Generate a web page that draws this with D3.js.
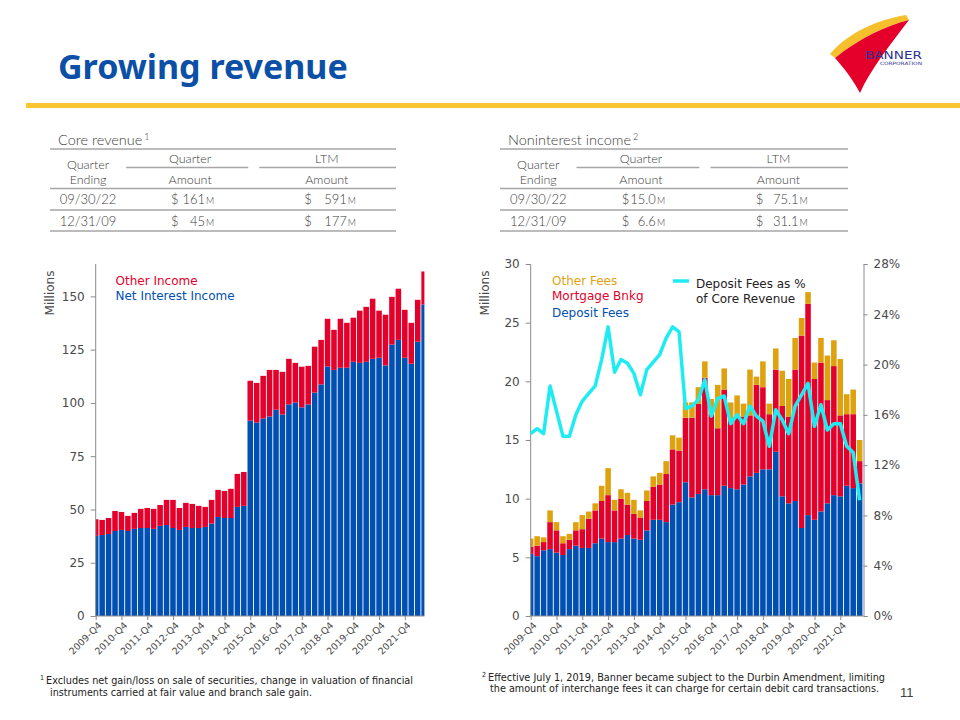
<!DOCTYPE html>
<html>
<head>
<meta charset="utf-8">
<script src="https://cdn.jsdelivr.net/npm/d3@7"></script>
<style>
body { margin: 0; background: #fff; }
svg text { font-family: "DejaVu Sans", Verdana, sans-serif; }
.tbl { font-family: Lato, "Open Sans", sans-serif; font-weight: 300; fill: #404040; }
.note { font-family: "Liberation Sans Narrow", "DejaVu Sans Condensed", sans-serif; fill: #222; }
</style>
</head>
<body>
<script>
var quarters = [
  "2009-Q4",
  "2010-Q1", "2010-Q2", "2010-Q3", "2010-Q4",
  "2011-Q1", "2011-Q2", "2011-Q3", "2011-Q4",
  "2012-Q1", "2012-Q2", "2012-Q3", "2012-Q4",
  "2013-Q1", "2013-Q2", "2013-Q3", "2013-Q4",
  "2014-Q1", "2014-Q2", "2014-Q3", "2014-Q4",
  "2015-Q1", "2015-Q2", "2015-Q3", "2015-Q4",
  "2016-Q1", "2016-Q2", "2016-Q3", "2016-Q4",
  "2017-Q1", "2017-Q2", "2017-Q3", "2017-Q4",
  "2018-Q1", "2018-Q2", "2018-Q3", "2018-Q4",
  "2019-Q1", "2019-Q2", "2019-Q3", "2019-Q4",
  "2020-Q1", "2020-Q2", "2020-Q3", "2020-Q4",
  "2021-Q1", "2021-Q2", "2021-Q3", "2021-Q4",
  "2022-Q1", "2022-Q2", "2022-Q3"
];
var label_quarters = ["2009-Q4", "2010-Q4", "2011-Q4", "2012-Q4", "2013-Q4", "2014-Q4", "2015-Q4",
  "2016-Q4", "2017-Q4", "2018-Q4", "2019-Q4", "2020-Q4", "2021-Q4"];

// core revenue, millions
var net_interest_income = [37.6, 38.0, 38.5, 39.9, 40.4, 39.9, 40.9, 41.3, 41.3, 40.9, 42.3, 42.7, 41.3,
  40.4, 41.8, 41.3, 41.3, 41.8, 43.4, 46.5, 46.0, 46.0, 51.2, 51.7, 91.7, 90.8, 92.7, 93.6, 96.8, 94.6,
  99.3, 100.2, 97.9, 99.3, 104.9, 108.7, 117.1, 115.5, 116.5, 116.5, 119.3, 118.8, 119.3, 120.7, 121.2,
  117.6, 127.4, 129.6, 121.2, 118.4, 128.7, 146.2];
var other_income = [7.8, 7.1, 7.5, 9.4, 8.4, 7.1, 7.5, 9.0, 9.4, 9.4, 9.8, 11.8, 13.2, 10.3, 11.3, 11.3,
  10.4, 9.4, 11.1, 12.7, 12.7, 13.7, 15.5, 15.9, 18.7, 18.6, 20.0, 21.9, 18.7, 20.0, 21.4, 18.6, 19.1,
  18.1, 21.5, 20.9, 22.4, 18.8, 23.0, 21.1, 20.7, 24.5, 25.8, 28.2, 22.1, 23.8, 22.4, 24.0, 22.5, 19.2,
  19.7, 15.5];

// noninterest income, millions
var deposit_fees = [5.3, 5.1, 5.6, 5.7, 5.4, 5.2, 5.7, 6.0, 5.8, 5.8, 6.2, 6.6, 6.3, 6.3, 6.6, 6.9, 6.6,
  6.5, 7.3, 8.2, 8.2, 8.0, 9.5, 9.7, 11.4, 10.1, 10.4, 10.8, 10.3, 10.3, 11.1, 10.9, 10.8, 11.2, 11.9,
  12.2, 12.5, 12.5, 14.0, 10.2, 9.6, 9.8, 7.5, 8.6, 8.2, 8.9, 9.6, 10.3, 10.2, 11.1, 10.9, 11.3];
var mortgage_banking = [0.6, 0.9, 0.7, 2.3, 1.9, 1.0, 0.8, 1.3, 1.6, 2.5, 2.8, 3.2, 4.0, 2.7, 3.4, 2.6,
  2.1, 1.9, 2.5, 2.8, 3.0, 4.1, 4.7, 4.4, 5.5, 6.8, 7.7, 9.5, 6.9, 5.7, 8.2, 5.8, 6.2, 5.8, 5.2, 7.5,
  7.0, 4.7, 7.0, 7.7, 7.4, 11.2, 16.4, 18.0, 12.0, 12.7, 8.8, 11.0, 6.9, 6.1, 6.3, 1.9];
var other_fees = [0.7, 0.8, 0.4, 1.0, 0.7, 0.6, 0.5, 0.7, 1.2, 0.6, 0.6, 1.3, 2.3, 0.9, 0.8, 1.0, 1.2,
  0.6, 0.9, 0.9, 1.0, 1.1, 1.2, 1.1, 1.3, 1.3, 1.4, 1.4, 1.3, 3.7, 1.8, 1.5, 1.8, 1.1, 3.9, 0.7, 2.2,
  0.9, 1.8, 3.0, 3.2, 2.7, 1.5, 1.0, 1.4, 2.1, 3.8, 2.2, 4.8, 1.7, 2.1, 1.8];
// deposit fees as % of core revenue
var deposit_fee_pct = [14.5, 14.9, 14.5, 18.3, 16.3, 14.3, 14.3, 16.0, 17.1, 17.7, 18.3, 20.4, 23.0,
  19.4, 20.4, 20.1, 19.3, 17.6, 19.6, 20.2, 20.8, 22.1, 23.0, 22.6, 16.5, 16.7, 17.2, 18.8, 15.9, 17.3,
  17.5, 15.3, 16.0, 15.3, 16.7, 15.9, 15.5, 13.5, 16.4, 15.6, 14.5, 16.7, 17.6, 18.5, 15.1, 16.8, 14.8,
  15.3, 15.3, 13.5, 13.0, 9.2];

var core_ticks = [0, 25, 50, 75, 100, 125, 150];
var fee_ticks = [0, 5, 10, 15, 20, 25, 30];
var pct_ticks = [0, 4, 8, 12, 16, 20, 24, 28];

var core_table_rows = [["09/30/22", "161", "591"], ["12/31/09", "45", "177"]];
var fee_table_rows = [["09/30/22", "15.0", "75.1"], ["12/31/09", "6.6", "31.1"]];

var blue_color  = "#0050b4";
var red_color   = "#e3002b";
var gold_color  = "#dfa20f";
var cyan_color  = "#1eecf2";
var axis_color  = "#8c8c8c";
var tick_color  = "#4a4a4a";
var plot_top    = 264;
var plot_bottom = 616;

var svg = d3.select("body").append("svg")
  .attr("width", 960)
  .attr("height", 720);

function draw_header () {
  svg.append("text")
    .attr("x", 58).attr("y", 79)
    .style("font-family", "'Noto Sans', sans-serif")
    .style("font-weight", "bold")
    .style("font-size", "34px")
    .style("fill", "#0b4fa6")
    .text("Growing revenue");

  svg.append("rect")
    .attr("x", 26).attr("y", 103)
    .attr("width", 934).attr("height", 5)
    .attr("fill", "#f7c632");

  // logo
  svg.append("path")
    .attr("d", "M830,54 C848,33 876,20 906,15 L909,20 C885,26 860,38 835,58 Z")
    .attr("fill", "#f5c02c");
  svg.append("path")
    .attr("d", "M835,58 C860,38 885,26 909,20 C890,45 870,70 860,93 C852,78 843,67 835,58 Z")
    .attr("fill", "#e4002b");
  svg.append("text")
    .attr("x", 865).attr("y", 58.5)
    .attr("textLength", 57).attr("lengthAdjust", "spacingAndGlyphs")
    .style("font-size", "11px")
    .style("fill", "#2e3192")
    .text("BANNER");
  svg.append("text")
    .attr("x", 880).attr("y", 64.5)
    .attr("textLength", 42).attr("lengthAdjust", "spacingAndGlyphs")
    .style("font-size", "4.5px")
    .style("fill", "#2e3192")
    .text("CORPORATION");
}

function draw_table (x0, x1, title, sup, rows) {
  var w = x1 - x0;
  var g = svg.append("g");
  function px (f) { return x0 + f*w; }
  function rule (a, b, y) {
    g.append("line")
      .attr("x1", px(a)).attr("x2", px(b))
      .attr("y1", y).attr("y2", y)
      .attr("stroke", "#a6a6a6").attr("stroke-width", 1.6);
  }
  var t = g.append("text").attr("class", "tbl")
    .attr("x", x0 + 8).attr("y", 145)
    .style("font-size", "14.5px")
    .text(title);
  t.append("tspan").attr("dx", 2).attr("dy", -5).style("font-size", "9px").text(sup);

  rule(0, 1, 149);
  rule(0.22, 0.573, 167.5);
  rule(0.605, 1, 167.5);
  rule(0, 1, 188.5);
  rule(0, 1, 210);
  rule(0, 1, 231);

  var head = [[0.11, 168.5, "Quarter"], [0.11, 184, "Ending"], [0.405, 163, "Quarter"],
    [0.8, 163, "LTM"], [0.405, 184, "Amount"], [0.8, 184, "Amount"]];
  g.selectAll("text.head").data(head).join("text")
    .attr("class", "tbl head")
    .attr("x", function (d) { return px(d[0]); })
    .attr("y", function (d) { return d[1]; })
    .attr("text-anchor", "middle")
    .style("font-size", "12.5px")
    .text(function (d) { return d[2]; });

  rows.forEach(function (r, i) {
    var y = 204 + i*21.5;
    g.append("text").attr("class", "tbl")
      .attr("x", px(0.11)).attr("y", y).attr("text-anchor", "middle")
      .style("font-size", "13px").text(r[0]);
    [[0.35, 0.448, r[1]], [0.735, 0.858, r[2]]].forEach(function (c) {
      g.append("text").attr("class", "tbl")
        .attr("x", px(c[0])).attr("y", y)
        .style("font-size", "13px").text("$");
      g.append("text").attr("class", "tbl")
        .attr("x", px(c[1])).attr("y", y).attr("text-anchor", "end")
        .style("font-size", "13px").text(c[2]);
      g.append("text").attr("class", "tbl")
        .attr("x", px(c[1]) + 1).attr("y", y)
        .style("font-size", "9px").text("M");
    });
  });
}

function draw_stacked_chart (id, left, step, plot_right, y_max, ticks, keys, series, colors) {
  var x = d3.scaleLinear()
    .domain([0, quarters.length - 1])
    .range([left, left + (quarters.length - 1)*step]);
  var y = d3.scaleLinear()
    .domain([0, y_max])
    .range([plot_bottom, plot_top]);

  var rows = quarters.map(function (q, i) {
    var r = {quarter: q, idx: i};
    keys.forEach(function (k, j) { r[k] = series[j][i]; });
    return r;
  });
  var stacked = d3.stack().keys(keys)(rows);

  svg.append("clipPath").attr("id", id)
    .append("rect")
    .attr("x", left).attr("y", plot_top - 10)
    .attr("width", plot_right - left).attr("height", plot_bottom - plot_top + 10);

  svg.append("g")
    .attr("clip-path", "url(#" + id + ")")
    .selectAll("g")
    .data(stacked)
    .join("g")
    .attr("fill", function (d, j) { return colors[j]; })
    .selectAll("rect")
    .data(function (d) { return d; })
    .join("rect")
    .attr("x", function (d) { return x(d.data.idx) - step/2 + 0.45; })
    .attr("width", step - 0.9)
    .attr("y", function (d) { return y(d[1]); })
    .attr("height", function (d) { return y(d[0]) - y(d[1]); });

  // axes
  var y_axis = svg.append("g")
    .attr("transform", "translate(" + left + ",0)")
    .call(d3.axisLeft(y).tickValues(ticks).tickSize(5).tickPadding(6));
  var x_axis = svg.append("g")
    .attr("transform", "translate(0," + plot_bottom + ")")
    .call(d3.axisBottom(x)
      .tickValues(label_quarters.map(function (q) { return quarters.indexOf(q); }))
      .tickFormat(function (i) { return quarters[i]; })
      .tickSize(4));
  x_axis.selectAll("text")
    .attr("x", 0).attr("y", 0).attr("dy", "0.6em")
    .attr("transform", "translate(2,6) rotate(-45)")
    .style("text-anchor", "end")
    .style("font-size", "9.5px");
  [y_axis, x_axis].forEach(function (a) {
    a.select(".domain").remove();
    a.selectAll("line").attr("stroke", axis_color);
    a.selectAll("text").attr("fill", tick_color).style("font-family", "'DejaVu Sans', sans-serif");
  });
  y_axis.selectAll("text").style("font-size", "12px");

  svg.append("line")
    .attr("x1", left).attr("x2", left)
    .attr("y1", plot_top).attr("y2", plot_bottom)
    .attr("stroke", axis_color);
  svg.append("line")
    .attr("x1", left).attr("x2", plot_right)
    .attr("y1", plot_bottom).attr("y2", plot_bottom)
    .attr("stroke", axis_color);

  svg.append("text")
    .attr("transform", "translate(" + (left - 42) + ",293) rotate(-90)")
    .attr("text-anchor", "middle")
    .style("font-size", "12px")
    .style("fill", tick_color)
    .text("Millions");

  return {x: x, y: y};
}

function draw_legend (x0, items) {
  svg.selectAll(null).data(items).join("text")
    .attr("x", x0)
    .attr("y", function (d) { return d[2]; })
    .style("font-size", "12px")
    .style("fill", function (d) { return d[1]; })
    .text(function (d) { return d[0]; });
}

function draw_notes () {
  var n1 = svg.append("text").attr("class", "note").attr("x", 40).attr("y", 684).style("font-size", "10.5px");
  n1.append("tspan").attr("dy", -4).style("font-size", "7px").text("1");
  n1.append("tspan").attr("dy", 4).attr("dx", 2)
    .attr("textLength", 367).attr("lengthAdjust", "spacingAndGlyphs")
    .text("Excludes net gain/loss on sale of securities, change in valuation of financial");
  svg.append("text").attr("class", "note").attr("x", 50).attr("y", 696).style("font-size", "10.5px")
    .attr("textLength", 262).attr("lengthAdjust", "spacingAndGlyphs")
    .text("instruments carried at fair value and branch sale gain.");

  var n2 = svg.append("text").attr("class", "note").attr("x", 482).attr("y", 681).style("font-size", "10.5px");
  n2.append("tspan").attr("dy", -4).style("font-size", "7px").text("2");
  n2.append("tspan").attr("dy", 4).attr("dx", 2)
    .attr("textLength", 397).attr("lengthAdjust", "spacingAndGlyphs")
    .text("Effective July 1, 2019, Banner became subject to the Durbin Amendment, limiting");
  svg.append("text").attr("class", "note").attr("x", 490).attr("y", 692).style("font-size", "10.5px")
    .attr("textLength", 389).attr("lengthAdjust", "spacingAndGlyphs")
    .text("the amount of interchange fees it can charge for certain debit card transactions.");

  svg.append("text")
    .attr("x", 900).attr("y", 697)
    .style("font-family", "'Liberation Sans Narrow', sans-serif")
    .style("font-size", "13px")
    .style("fill", "#404040")
    .text("11");
}

draw_header();
draw_table(50, 396, "Core revenue", "1", core_table_rows);
draw_table(500, 848, "Noninterest income", "2", fee_table_rows);

// core revenue chart
draw_stacked_chart("clip-core", 95.7, 6.44, 424.4, 165.2, core_ticks,
  ["nii", "other"], [net_interest_income, other_income], [blue_color, red_color]);
draw_legend(115.5, [["Other Income", red_color, 285], ["Net Interest Income", blue_color, 300]]);

// noninterest income chart
var fee_scales = draw_stacked_chart("clip-fee", 530.7, 6.45, 863.5, 30, fee_ticks,
  ["deposit", "mortgage", "other"], [deposit_fees, mortgage_banking, other_fees],
  [blue_color, red_color, gold_color]);

var y_pct = d3.scaleLinear().domain([0, 28]).range([plot_bottom, plot_top]);
var right_axis = svg.append("g")
  .attr("transform", "translate(863.5,0)")
  .call(d3.axisRight(y_pct).tickValues(pct_ticks).tickSize(4).tickPadding(6)
    .tickFormat(function (d) { return d + "%"; }));
right_axis.select(".domain").attr("stroke", axis_color);
right_axis.selectAll("line").attr("stroke", axis_color);
right_axis.selectAll("text").attr("fill", tick_color).style("font-size", "12px")
  .style("font-family", "'DejaVu Sans', sans-serif");

var pct_line = d3.line()
  .x(function (d, i) { return fee_scales.x(i); })
  .y(function (d) { return y_pct(d); });
svg.append("path")
  .datum(deposit_fee_pct)
  .attr("d", pct_line)
  .attr("fill", "none")
  .attr("stroke", cyan_color)
  .attr("stroke-width", 3.5)
  .attr("stroke-linejoin", "round");

draw_legend(552, [["Other Fees", gold_color, 285], ["Mortgage Bnkg", red_color, 300],
  ["Deposit Fees", blue_color, 317]]);
svg.append("line")
  .attr("x1", 673).attr("x2", 689)
  .attr("y1", 281).attr("y2", 281)
  .attr("stroke", cyan_color).attr("stroke-width", 3.5);
draw_legend(696, [["Deposit Fees as %", "#222", 288], [" of Core Revenue", "#222", 303]]);

draw_notes();
</script>
</body>
</html>
